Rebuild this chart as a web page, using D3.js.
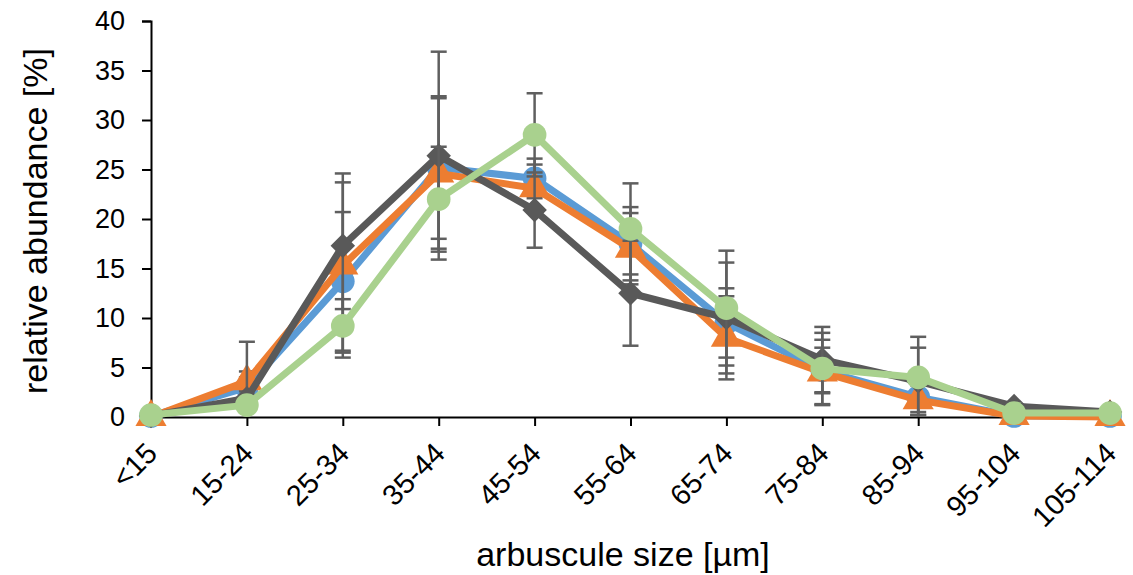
<!DOCTYPE html>
<html>
<head>
<meta charset="utf-8">
<script src="https://cdn.jsdelivr.net/npm/d3@7"></script>
<style>
  body { margin: 0; background: #fff; }
  text { font-family: "Liberation Sans", Arial, sans-serif; fill: #000; }
</style>
</head>
<body>
<div id="chart"></div>
<script>
const svgWidth = 1133;
const svgHeight = 575;

const categories = ["<15","15-24","25-34","35-44","45-54","55-64","65-74","75-84","85-94","95-104","105-114"];
const yTicks = [0,5,10,15,20,25,30,35,40];

// mean values per series
const blueValues   = [0.1, 3.0, 13.7, 25.2, 24.1, 17.5, 9.5, 4.7, 2.0, 0.1, 0.1];
const orangeValues = [0.0, 3.6, 15.3, 24.6, 23.1, 17.0, 8.0, 4.5, 1.7, 0.1, 0.0];
const grayValues   = [0.1, 1.9, 17.3, 26.4, 20.9, 12.5, 10.0, 5.8, 3.6, 1.1, 0.5];
const greenValues  = [0.2, 1.2, 9.2, 22.0, 28.5, 19.0, 11.0, 4.9, 4.0, 0.4, 0.4];

// error bar half widths
const blueErrors   = [0, 1.0, 7.0, 7.2, 2.0, 3.7, 3.5, 2.3, 1.5, 0, 0];
const orangeErrors = [0, 1.0, 9.3, 7.6, 2.4, 3.6, 4.2, 3.3, 1.5, 0, 0];
const grayErrors   = [0, 5.7, 6.4, 10.5, 3.8, 5.3, 5.6, 3.3, 3.4, 0, 0];
const greenErrors  = [0, 0.5, 2.7, 5.3, 4.2, 4.6, 5.8, 3.6, 4.1, 0, 0];

const series = [
  {name:"blue",   color:"#5B9BD5", shape:"circle",   values:blueValues,   errors:blueErrors},
  {name:"orange", color:"#ED7D31", shape:"triangle", values:orangeValues, errors:orangeErrors},
  {name:"gray",   color:"#595959", shape:"diamond",  values:grayValues,   errors:grayErrors},
  {name:"green",  color:"#A9D18E", shape:"circle",   values:greenValues,  errors:greenErrors}
];

const margin = {left:151, top:21};
const plotW = 1110 - 151;
const plotH = 417 - 21;

const svg = d3.select("#chart").append("svg")
  .attr("width", svgWidth)
  .attr("height", svgHeight);

const g = svg.append("g")
  .attr("transform", "translate(" + margin.left + "," + margin.top + ")");

const xscale = d3.scalePoint().domain(categories).range([0, plotW]);
const yscale = d3.scaleLinear().domain([0, 40]).range([plotH, 0]);

// axes
const yaxis = d3.axisLeft(yscale).tickValues(yTicks).tickSize(9).tickPadding(17);
const xaxis = d3.axisBottom(xscale).tickSize(9).tickFormat("");

const yg = g.append("g").call(yaxis);
yg.select(".domain").attr("stroke", "#000").attr("stroke-width", 2);
yg.selectAll(".tick line").attr("stroke", "#000").attr("stroke-width", 2);
yg.selectAll(".tick text").attr("font-size", 27).attr("fill", "#000")
  .style("font-family", "'Liberation Sans', Arial, sans-serif");

const xg = g.append("g").attr("transform", "translate(0," + plotH + ")").call(xaxis);
xg.select(".domain").attr("stroke", "#000").attr("stroke-width", 2);
xg.selectAll(".tick line").attr("stroke", "#000").attr("stroke-width", 2);

// rotated x labels
g.selectAll(".xlab").data(categories).enter().append("text")
  .attr("class", "xlab")
  .attr("text-anchor", "end")
  .attr("font-size", 29)
  .attr("transform", d => "translate(" + (xscale(d) + 8) + "," + (plotH + 38) + ")rotate(-45)")
  .text(d => d);

// axis titles
svg.append("text")
  .attr("x", 623).attr("y", 566)
  .attr("text-anchor", "middle")
  .attr("font-size", 34)
  .text("arbuscule size [µm]");

svg.append("text")
  .attr("transform", "translate(47,221)rotate(-90)")
  .attr("text-anchor", "middle")
  .attr("font-size", 34)
  .text("relative abundance [%]");

// series
const line = d3.line()
  .x((d, i) => xscale(categories[i]))
  .y(d => yscale(d));

const symbols = {
  circle: d3.symbol().type(d3.symbolCircle).size(440),
  triangle: d3.symbol().type(d3.symbolTriangle).size(420),
  diamond: d3.symbol().type(d3.symbolSquare).size(300)
};

series.forEach(function(s){
  const sg = g.append("g");

  // error bars
  const eb = sg.selectAll(".eb").data(s.values.map((v, i) => ({v:v, e:s.errors[i], c:categories[i]})).filter(d => d.e > 0))
    .enter().append("g").attr("stroke", "#5f5f5f").attr("stroke-width", 2.5);
  eb.append("line")
    .attr("x1", d => xscale(d.c)).attr("x2", d => xscale(d.c))
    .attr("y1", d => yscale(d.v + d.e)).attr("y2", d => yscale(Math.max(0, d.v - d.e)));
  eb.append("line")
    .attr("x1", d => xscale(d.c) - 8).attr("x2", d => xscale(d.c) + 8)
    .attr("y1", d => yscale(d.v + d.e)).attr("y2", d => yscale(d.v + d.e));
  eb.filter(d => d.v - d.e > 0).append("line")
    .attr("x1", d => xscale(d.c) - 8).attr("x2", d => xscale(d.c) + 8)
    .attr("y1", d => yscale(d.v - d.e)).attr("y2", d => yscale(d.v - d.e));

  sg.append("path")
    .datum(s.values)
    .attr("fill", "none")
    .attr("stroke", s.color)
    .attr("stroke-width", 7)
    .attr("stroke-linejoin", "round")
    .attr("d", line);

  sg.selectAll(".mk").data(s.values).enter().append("path")
    .attr("fill", s.color)
    .attr("d", symbols[s.shape])
    .attr("transform", (d, i) => "translate(" + xscale(categories[i]) + "," + yscale(d) + ")" + (s.shape === "diamond" ? "rotate(45)" : ""));
});
</script>
</body>
</html>
